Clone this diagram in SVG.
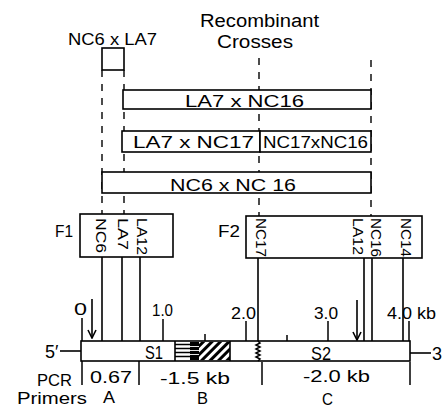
<svg xmlns="http://www.w3.org/2000/svg" width="442" height="408" viewBox="0 0 442 408">
<defs>
<style>
text { font-family: "Liberation Sans", Arial, sans-serif; fill: #000; font-size: 16px; }
.lg { font-size: 18px; }
.md { font-size: 17px; }
.vt { font-size: 15px; }
.box { fill: #fff; stroke: #000; stroke-width: 1.6; }
.dash { stroke: #000; stroke-width: 1.4; stroke-dasharray: 7 7; fill: none; }
.ln { stroke: #000; stroke-width: 1.6; fill: none; }
.tick { stroke: #000; stroke-width: 1.5; fill: none; }
.arrow { stroke: #000; stroke-width: 1.6; fill: none; marker-end: url(#openArrow); }
</style>
<marker id="openArrow" viewBox="0 0 10 10" refX="9" refY="5" markerWidth="10" markerHeight="10" markerUnits="userSpaceOnUse" orient="auto">
<path d="M1,1 L9,5 L1,9" fill="none" stroke="#000" stroke-width="1.6"/>
</marker>
<pattern id="diag" width="6" height="6" patternUnits="userSpaceOnUse" patternTransform="rotate(45)">
<rect x="0" y="0" width="3" height="6" fill="#000"/>
</pattern>
</defs>

<rect width="442" height="408" fill="#fff"/>

<!-- header -->
<g id="title">
<text class="lg" x="200" y="27" textLength="119" lengthAdjust="spacingAndGlyphs">Recombinant</text>
<text class="lg" x="217" y="48" textLength="76" lengthAdjust="spacingAndGlyphs">Crosses</text>
</g>

<!-- connectors -->
<g id="connectors">
<line class="dash" x1="102" y1="70" x2="102" y2="214"/>
<line class="dash" x1="124" y1="70" x2="124" y2="214"/>
<line class="dash" x1="259" y1="58" x2="259" y2="216"/>
<line class="dash" x1="371" y1="60" x2="371" y2="216"/>
<!-- F1 to map -->
<line class="ln" x1="102" y1="257" x2="102" y2="341"/>
<line class="ln" x1="122" y1="257" x2="122" y2="341"/>
<line class="ln" x1="140" y1="257" x2="140" y2="341"/>
<!-- F2 to map -->
<line class="ln" x1="258" y1="258" x2="258" y2="341"/>
<line class="ln" x1="364" y1="258" x2="364" y2="341"/>
<line class="ln" x1="372" y1="258" x2="372" y2="341"/>
<line class="ln" x1="403" y1="258" x2="403" y2="341"/>
<!-- arrows -->
<line class="arrow" x1="92" y1="299" x2="92" y2="338"/>
<line class="arrow" x1="357" y1="300" x2="357" y2="340"/>
</g>

<!-- cross nodes -->
<g id="cross-nc6-la7">
<rect class="box" x="102" y="48" width="22" height="22"/>
<text class="md" x="68" y="45" textLength="89" lengthAdjust="spacingAndGlyphs">NC6 x LA7</text>
</g>
<g id="cross-la7-nc16">
<rect class="box" x="123" y="90" width="248" height="19"/>
<text x="185" y="107" textLength="119" lengthAdjust="spacingAndGlyphs">LA7 x NC16</text>
</g>
<g id="cross-la7-nc17">
<rect class="box" x="122" y="131" width="138" height="21"/>
<text x="133" y="148" textLength="121" lengthAdjust="spacingAndGlyphs">LA7 x NC17</text>
</g>
<g id="cross-nc17-nc16">
<rect class="box" x="260" y="131" width="111" height="21"/>
<text x="263" y="148" textLength="105" lengthAdjust="spacingAndGlyphs">NC17xNC16</text>
</g>
<g id="cross-nc6-nc16">
<rect class="box" x="102" y="172" width="269" height="21"/>
<text x="170" y="191" textLength="126" lengthAdjust="spacingAndGlyphs">NC6 x NC 16</text>
</g>

<!-- F1 -->
<g id="F1">
<rect class="box" x="80" y="214" width="93" height="43"/>
<text class="md" x="55" y="237" textLength="18" lengthAdjust="spacingAndGlyphs">F1</text>
<text class="vt" transform="translate(95.6,218) rotate(90)" textLength="35" lengthAdjust="spacingAndGlyphs">NC6</text>
<text class="vt" transform="translate(118.1,218) rotate(90)" textLength="32" lengthAdjust="spacingAndGlyphs">LA7</text>
<text class="vt" transform="translate(137.1,218) rotate(90)" textLength="37" lengthAdjust="spacingAndGlyphs">LA12</text>
</g>

<!-- F2 -->
<g id="F2">
<rect class="box" x="246" y="216" width="176" height="42"/>
<text class="md" x="218" y="237" textLength="22" lengthAdjust="spacingAndGlyphs">F2</text>
<text class="vt" transform="translate(255.6,218) rotate(90)" textLength="39" lengthAdjust="spacingAndGlyphs">NC17</text>
<text class="vt" transform="translate(352.6,218) rotate(90)" textLength="37" lengthAdjust="spacingAndGlyphs">LA12</text>
<text class="vt" transform="translate(370.6,218) rotate(90)" textLength="39" lengthAdjust="spacingAndGlyphs">NC16</text>
<text class="vt" transform="translate(400.6,218) rotate(90)" textLength="39" lengthAdjust="spacingAndGlyphs">NC14</text>
</g>

<!-- map bar -->
<g id="map">
<line class="ln" x1="60" y1="351" x2="81" y2="351"/>
<line class="ln" x1="410" y1="353" x2="431" y2="353"/>
<text class="lg" x="45" y="358">5′</text>
<text class="lg" x="432" y="360">3′</text>
<rect class="box" x="81" y="341" width="329" height="20"/>
<g stroke="#000" stroke-width="1.5">
<line x1="175" y1="344.5" x2="199" y2="344.5"/>
<line x1="175" y1="348.5" x2="199" y2="348.5"/>
<line x1="175" y1="352.5" x2="199" y2="352.5"/>
<line x1="175" y1="356.5" x2="199" y2="356.5"/>
</g>
<rect x="190" y="342" width="9" height="18" fill="#000"/>
<g stroke="#fff" stroke-width="0.9">
<line x1="190" y1="346.5" x2="199" y2="346.5"/>
<line x1="190" y1="350.5" x2="199" y2="350.5"/>
<line x1="190" y1="354.5" x2="199" y2="354.5"/>
</g>
<rect x="199" y="341.8" width="31" height="18.4" fill="url(#diag)"/>
<line class="ln" x1="175" y1="341" x2="175" y2="361"/>
<line class="ln" x1="230" y1="341" x2="230" y2="361"/>
<path class="tick" d="M258,341 l2,2 l-4,2 l4,2 l-4,2 l4,2 l-4,2 l4,2 l-4,2 l4,2 l-2,2"/>
<text class="lg" x="145" y="359" textLength="18" lengthAdjust="spacingAndGlyphs">S1</text>
<text class="lg" x="311" y="360" textLength="20" lengthAdjust="spacingAndGlyphs">S2</text>
</g>

<!-- scale -->
<g id="scale">
<line class="tick" x1="82" y1="318" x2="82" y2="341"/>
<line class="tick" x1="163" y1="319" x2="163" y2="341"/>
<line class="tick" x1="205" y1="334" x2="205" y2="341"/>
<line class="tick" x1="246" y1="321" x2="246" y2="341"/>
<line class="tick" x1="287" y1="335" x2="287" y2="341"/>
<line class="tick" x1="328" y1="321" x2="328" y2="341"/>
<line class="tick" x1="409" y1="321" x2="409" y2="341"/>
<text class="md" x="74" y="315" textLength="13" lengthAdjust="spacingAndGlyphs">0</text>
<text class="md" x="152" y="316" textLength="21" lengthAdjust="spacingAndGlyphs">1.0</text>
<text class="md" x="231" y="319" textLength="25" lengthAdjust="spacingAndGlyphs">2.0</text>
<text class="md" x="314" y="319" textLength="24" lengthAdjust="spacingAndGlyphs">3.0</text>
<text class="md" x="387" y="319" textLength="49" lengthAdjust="spacingAndGlyphs">4.0 kb</text>
</g>

<!-- PCR primers -->
<g id="primers">
<line class="tick" x1="82" y1="361" x2="82" y2="385"/>
<line class="tick" x1="139" y1="361" x2="139" y2="385"/>
<line class="tick" x1="262" y1="362" x2="262" y2="385"/>
<line class="tick" x1="410" y1="362" x2="410" y2="385"/>
<text class="md" x="90" y="383" textLength="42" lengthAdjust="spacingAndGlyphs">0.67</text>
<text class="md" x="160" y="384" textLength="70" lengthAdjust="spacingAndGlyphs">-1.5 kb</text>
<text class="md" x="303" y="382" textLength="67" lengthAdjust="spacingAndGlyphs">-2.0 kb</text>
<text x="37" y="386" textLength="35" lengthAdjust="spacingAndGlyphs">PCR</text>
<text x="17" y="404" textLength="70" lengthAdjust="spacingAndGlyphs">Primers</text>
<text class="md" x="103" y="403" textLength="12" lengthAdjust="spacingAndGlyphs">A</text>
<text class="md" x="197" y="404" textLength="11" lengthAdjust="spacingAndGlyphs">B</text>
<text class="md" x="322" y="405" textLength="11" lengthAdjust="spacingAndGlyphs">C</text>
</g>
</svg>
